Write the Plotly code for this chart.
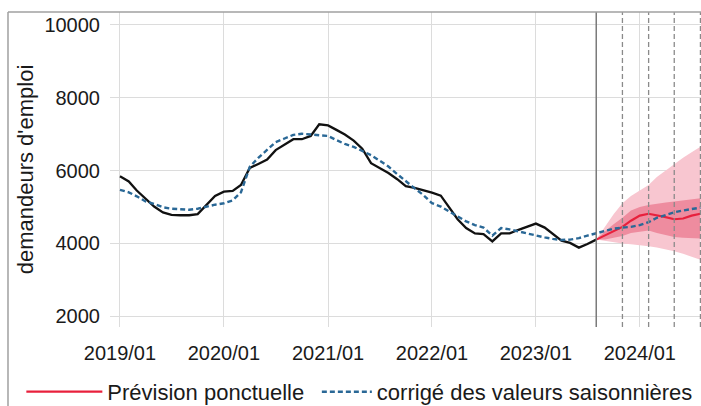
import pandas as pd
import plotly.graph_objects as go

# ---------------- data ----------------
start_month = "2019-01-01"
observed = [5840, 5700, 5450, 5220, 5010, 4850, 4780, 4770, 4770, 4800, 5050, 5300,
            5420, 5440, 5600, 6070, 6180, 6300, 6560, 6700, 6860, 6860, 6950, 7270,
            7240, 7110, 6990, 6820, 6600, 6200, 6070, 5930, 5760, 5570, 5520, 5460,
            5390, 5310, 4990, 4660, 4420, 4270, 4250, 4050, 4270, 4270, 4370, 4460,
            4540, 4430, 4250, 4070, 4010, 3880, 3980, 4100]
seasonally_adj = [5470, 5400, 5290, 5150, 5080, 4990, 4950, 4930, 4920, 4950, 5010, 5060,
                  5100, 5180, 5400, 6100, 6350, 6580, 6780, 6880, 6980, 7010, 6990, 6990,
                  6950, 6830, 6730, 6650, 6540, 6420, 6270, 6110, 5900, 5700, 5510, 5330,
                  5100, 5010, 4880, 4720, 4600, 4500, 4430, 4210, 4420, 4380, 4320, 4270,
                  4210, 4160, 4120, 4090, 4100, 4140, 4210, 4280, 4350, 4400, 4430, 4450,
                  4500, 4580, 4700, 4780, 4850, 4900, 4940, 4980]
forecast_start = "2023-08-01"
forecast = [4100, 4220, 4330, 4450, 4620, 4760, 4810, 4770, 4720, 4660, 4680, 4760, 4810]
inner_lo = [4100, 4100, 4150, 4200, 4280, 4320, 4350, 4280, 4220, 4170, 4150, 4140, 4130]
inner_hi = [4100, 4330, 4520, 4700, 4900, 5000, 5050, 5090, 5120, 5150, 5180, 5210, 5240]
outer_lo = [4100, 4060, 4020, 3990, 3970, 3950, 3920, 3880, 3830, 3780, 3710, 3630, 3550]
outer_hi = [4100, 4450, 4800, 5100, 5300, 5450, 5600, 5820, 6000, 6180, 6350, 6500, 6650]
forecast_origin = "2023-08-01"
horizon_dates = ["2023-11-01", "2024-02-01", "2024-05-01", "2024-08-01"]
y_ticks = [2000, 4000, 6000, 8000, 10000]
y_tick_labels = ["2000", "4000", "6000", "8000", "10000"]
x_ticks = ["2019-01-01", "2020-01-01", "2021-01-01", "2022-01-01", "2023-01-01", "2024-01-01"]
x_tick_labels = ["2019/01", "2020/01", "2021/01", "2022/01", "2023/01", "2024/01"]
legend_names = ["Prévision ponctuelle", "corrigé des valeurs saisonnières"]
y_title = "demandeurs d'emploi"

# ---------------- figure ----------------
obs_x = pd.date_range(start_month, periods=len(observed), freq="MS")
sa_x = pd.date_range(start_month, periods=len(seasonally_adj), freq="MS")
fc_x = pd.date_range(forecast_start, periods=len(forecast), freq="MS")

FONT = "Liberation Sans, Arial, sans-serif"
fig = go.Figure()

fig.add_trace(go.Scatter(x=fc_x, y=outer_hi, mode="lines", line=dict(width=0),
                         showlegend=False, hoverinfo="skip"))
fig.add_trace(go.Scatter(x=fc_x, y=outer_lo, mode="lines", line=dict(width=0),
                         fill="tonexty", fillcolor="#f8c6d0", showlegend=False, hoverinfo="skip"))
fig.add_trace(go.Scatter(x=fc_x, y=inner_hi, mode="lines", line=dict(width=0),
                         showlegend=False, hoverinfo="skip"))
fig.add_trace(go.Scatter(x=fc_x, y=inner_lo, mode="lines", line=dict(width=0),
                         fill="tonexty", fillcolor="#ee8c9f", showlegend=False, hoverinfo="skip"))

fig.add_trace(go.Scatter(x=obs_x, y=observed, mode="lines", name="observé",
                         line=dict(color="#111111", width=2.3), showlegend=False))
fig.add_trace(go.Scatter(x=fc_x, y=forecast, mode="lines", name=legend_names[0],
                         line=dict(color="#e8203c", width=2.2), legend="legend"))
fig.add_trace(go.Scatter(x=sa_x, y=seasonally_adj, mode="lines", name=legend_names[1],
                         line=dict(color="#2a6896", width=2.4, dash="5px,3px"),
                         legend="legend2"))

fig.add_shape(type="line", xref="x", yref="paper", x0=forecast_origin, x1=forecast_origin,
              y0=0, y1=1, line=dict(color="#7a7a7a", width=1.5))
for d in horizon_dates:
    fig.add_shape(type="line", xref="x", yref="paper", x0=d, x1=d, y0=0, y1=1,
                  line=dict(color="#8a8a8a", width=1.3, dash="5px,3px"))

# outer frame lines
fig.add_shape(type="line", xref="paper", yref="paper", x0=-0.1726, x1=1.0, y0=1, y1=1,
              line=dict(color="#a0a0a0", width=1.5))
fig.add_shape(type="line", xref="paper", yref="paper", x0=-0.1726, x1=-0.1726, y0=1, y1=-0.26,
              line=dict(color="#a0a0a0", width=1.5))

fig.update_layout(
    width=701, height=406,
    margin=dict(l=110, r=0, t=12, b=79, autoexpand=False),
    paper_bgcolor="white", plot_bgcolor="white",
    font=dict(family=FONT, size=20, color="#1a1a1a"),
    showlegend=True,
    legend=dict(orientation="h", x=-0.15, xanchor="left",
                y=-0.206, yanchor="middle",
                font=dict(size=22), itemwidth=76, bgcolor="rgba(0,0,0,0)"),
    legend2=dict(orientation="h", x=0.35, xanchor="left",
                 y=-0.206, yanchor="middle",
                 font=dict(size=22), itemwidth=50, bgcolor="rgba(0,0,0,0)"),
    xaxis=dict(type="date", range=["2018-11-27", "2024-08-03"], automargin=False,
               tickvals=x_ticks, ticktext=x_tick_labels,
               showgrid=True, gridcolor="#dcdcdc", gridwidth=1,
               showline=False, zeroline=False, ticks="",
               ticklabelstandoff=12, tickfont=dict(size=20)),
    yaxis=dict(range=[1698, 10357], tickvals=y_ticks, ticktext=y_tick_labels,
               automargin=False,
               showgrid=True, gridcolor="#dcdcdc", gridwidth=1,
               showline=False, zeroline=False, ticks="",
               ticklabelstandoff=9, tickfont=dict(size=20),
               title=dict(text=y_title, font=dict(size=22), standoff=4)),
)

fig.write_html(
    "out.html",
    config={"displayModeBar": False},
    post_script="document.body.style.margin='0';document.body.style.overflow='hidden';",
)
